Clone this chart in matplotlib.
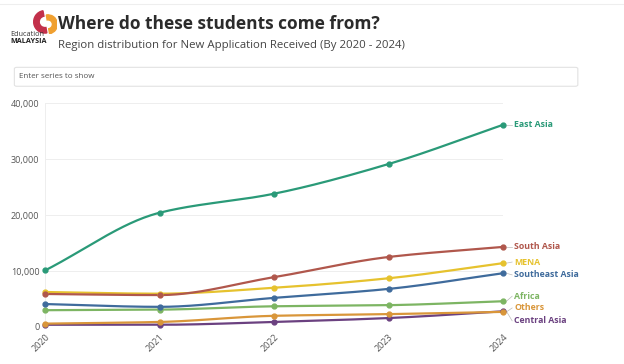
import numpy as np
import matplotlib
matplotlib.use("Agg")
import matplotlib.pyplot as plt
from matplotlib.patches import FancyBboxPatch, Wedge

plt.rcParams['font.family'] = ['Open Sans', 'DejaVu Sans']

years = [2020, 2021, 2022, 2023, 2024]
east_asia = [10100, 20400, 23800, 29100, 36100]
south_asia = [5900, 5700, 8900, 12500, 14300]
mena = [6250, 5950, 7000, 8700, 11400]
southeast_asia = [4100, 3600, 5200, 6800, 9600]
africa = [3000, 3100, 3700, 3900, 4600]
others = [600, 900, 2000, 2300, 2700]
central_asia = [400, 400, 900, 1600, 2800]

series = [
    ("East Asia", east_asia, "#2a9a78"),
    ("South Asia", south_asia, "#b0574c"),
    ("MENA", mena, "#e6c22e"),
    ("Southeast Asia", southeast_asia, "#3f6b9c"),
    ("Africa", africa, "#7db563"),
    ("Others", others, "#d9963a"),
    ("Central Asia", central_asia, "#6b4180"),
]
# label vertical positions (layout, in data units)
label_y = {"East Asia": 36100, "South Asia": 14300, "MENA": 11600, "Southeast Asia": 9300,
           "Africa": 5500, "Others": 3400, "Central Asia": 1100}


def pchip(x, y, xs):
    x = np.asarray(x, float); y = np.asarray(y, float)
    h = np.diff(x); d = np.diff(y) / h
    n = len(x); m = np.zeros(n)
    for k in range(1, n - 1):
        if d[k - 1] * d[k] > 0:
            w1 = 2 * h[k] + h[k - 1]; w2 = h[k] + 2 * h[k - 1]
            m[k] = (w1 + w2) / (w1 / d[k - 1] + w2 / d[k])
    m[0] = d[0]; m[-1] = d[-1]
    out = np.empty_like(xs)
    for i, xv in enumerate(xs):
        k = min(np.searchsorted(x, xv, side='right') - 1, n - 2)
        t = (xv - x[k]) / h[k]
        h00 = 2 * t**3 - 3 * t**2 + 1; h10 = t**3 - 2 * t**2 + t
        h01 = -2 * t**3 + 3 * t**2; h11 = t**3 - t**2
        out[i] = h00 * y[k] + h10 * h[k] * m[k] + h01 * y[k + 1] + h11 * h[k] * m[k + 1]
    return out


fig = plt.figure(figsize=(6.24, 3.64), dpi=100)
fig.patch.set_facecolor("white")

# top thin line
fig.add_artist(plt.Line2D([0.0, 1.0], [0.99, 0.99], color="#eeeeee", lw=0.8))

# logo approximation
fig.text(0.017, 0.905, "Education", fontsize=5.2, color="#333333", ha="left", va="center")
fig.text(0.017, 0.885, "MALAYSIA", fontsize=5.2, color="#222222", fontweight="bold", ha="left", va="center")
lax = fig.add_axes([0.052, 0.905, 0.04, 0.07])
lax.set_xlim(0, 1); lax.set_ylim(0, 1); lax.set_aspect('equal'); lax.axis('off')
lax.add_patch(Wedge((0.5, 0.5), 0.45, 100, 280, width=0.22, color="#c2304a"))
lax.add_patch(Wedge((0.62, 0.4), 0.38, -80, 100, width=0.2, color="#f0a030"))

fig.text(0.093, 0.935, "Where do these students come from?", fontsize=12.5, fontweight="bold",
         color="#2b2b2b", ha="left", va="center")
fig.text(0.093, 0.876, "Region distribution for New Application Received (By 2020 - 2024)", fontsize=8.2,
         color="#444444", ha="left", va="center")

# search box
box = FancyBboxPatch((0.023, 0.763), 0.903, 0.052, boxstyle="round,pad=0,rounding_size=0.004",
                     transform=fig.transFigure, facecolor="white", edgecolor="#e2e2e2", lw=0.8)
fig.add_artist(box)
fig.text(0.03, 0.789, "Enter series to show", fontsize=5.8, color="#555555", ha="left", va="center")

ax = fig.add_axes([45 / 624, (364 - 327) / 364, (503 - 45) / 624, (327 - 103) / 364])
ax.set_xlim(2020, 2024)
ax.set_ylim(0, 40000)
for s in ax.spines.values():
    s.set_visible(False)
ax.set_yticks([0, 10000, 20000, 30000, 40000])
ax.set_yticklabels(["0", "10,000", "20,000", "30,000", "40,000"])
ax.set_xticks(years)
ax.set_xticklabels([str(y) for y in years], rotation=45, ha="right", rotation_mode="anchor")
ax.tick_params(axis="both", length=0, labelsize=6.5, colors="#555555", pad=4)
ax.grid(axis="y", color="#eeeeee", lw=0.7)
ax.axvline(2020, color="#eeeeee", lw=0.7, zorder=0)
ax.set_axisbelow(True)

xs = np.linspace(2020, 2024, 200)
for name, vals, col in reversed(series):
    ax.plot(xs, pchip(years, vals, xs), color=col, lw=1.6, clip_on=False, zorder=3)
    ax.plot(years, vals, "o", color=col, ms=3.5, clip_on=False, zorder=4)
    ax.annotate(name, xy=(2024, vals[-1]), xytext=(2024.1, label_y[name]),
                textcoords="data", fontsize=6.3, fontweight="bold", color=col,
                ha="left", va="center", annotation_clip=False)
    ax.plot([2024.03, 2024.08], [vals[-1], label_y[name]], color="#bbbbbb", lw=0.5, clip_on=False)

fig.savefig("out.png", dpi=100, facecolor="white")
